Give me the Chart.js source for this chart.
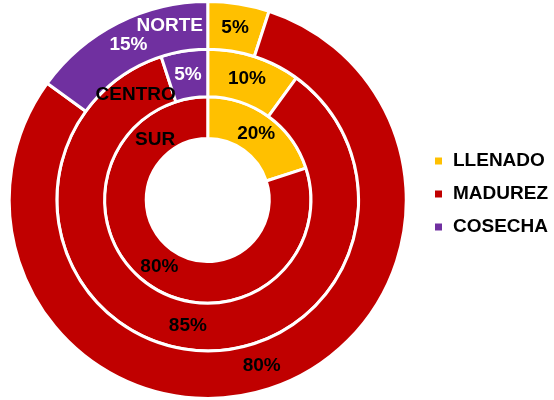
<!DOCTYPE html>
<html>
<head>
<meta charset="utf-8">
<script src="https://cdn.jsdelivr.net/npm/chart.js@4/dist/chart.umd.min.js"></script>
<style>
  html, body { margin: 0; padding: 0; background: #fff; }
  #wrap { width: 554px; height: 400px; }
</style>
</head>
<body>
<div id="wrap"><canvas id="ringChart" width="554" height="400"></canvas></div>
<script>
// Datos del gráfico - anillos de afuera hacia adentro
const etapas = ['LLENADO', 'MADUREZ', 'COSECHA'];
const zonas = ['NORTE', 'CENTRO', 'SUR'];
const norte = [5, 80, 15];
const centro = [10, 85, 5];
const sur = [20, 80, 0];

const colores = ['#FFC000', '#C00000', '#7030A0'];
const grosores = [1, 1, 0.875];

// Etiquetas de porcentaje y nombre de cada anillo
const etiquetasPlugin = {
    id: 'etiquetas',
    afterLayout(chart, args, opts) {
        // mover un poco la leyenda
        const lg = chart.legend;
        lg.left += opts.leyendaX; lg.right += opts.leyendaX;
        lg.top += opts.leyendaY; lg.bottom += opts.leyendaY;
    },
    afterDatasetsDraw(chart, args, opts) {
        const ctx = chart.ctx;
        ctx.save();
        ctx.font = 'bold 19px "Liberation Sans", Arial, sans-serif';
        ctx.textAlign = 'center';
        ctx.textBaseline = 'middle';

        chart.data.datasets.forEach((ds, i) => {
            const meta = chart.getDatasetMeta(i);
            meta.data.forEach((arc, j) => {
                const v = ds.data[j];
                if (!v) return;
                const p = arc.tooltipPosition();
                ctx.fillStyle = j === 2 ? '#fff' : '#000';
                ctx.fillText(v + '%', p.x, p.y);
            });

            // nombre de la zona
            const a0 = meta.data[0];
            const r = a0.innerRadius + (a0.outerRadius - a0.innerRadius) * opts.radio[i];
            const ang = (opts.angulo[i] - 90) * Math.PI / 180;
            ctx.fillStyle = opts.color[i];
            ctx.fillText(ds.label, a0.x + r * Math.cos(ang), a0.y + r * Math.sin(ang));
        });
        ctx.restore();
    }
};

function initRingChart() {
    const ctx = document.getElementById('ringChart');
    const series = [norte, centro, sur];

    return new Chart(ctx, {
        type: 'doughnut',
        data: {
            labels: etapas,
            datasets: series.map((s, i) => ({
                label: zonas[i],
                data: s,
                weight: grosores[i],
                backgroundColor: colores,
                borderColor: '#fff',
                borderWidth: 3
            }))
        },
        options: {
            responsive: false,
            animation: false,
            cutout: '31%',
            layout: { padding: { top: -0.5, bottom: -2.5, left: -4, right: 0 } },
            plugins: {
                legend: {
                    position: 'right',
                    labels: {
                        color: '#000',
                        boxWidth: 10,
                        boxHeight: 10,
                        padding: 14,
                        font: { family: '"Liberation Sans", Arial, sans-serif', size: 19, weight: 'bold' }
                    }
                },
                tooltip: { enabled: false },
                etiquetas: {
                    angulo: [-12.3, -34.4, -41],
                    radio: [0.58, 0.51, 0.45],
                    color: ['#fff', '#000', '#000'],
                    leyendaX: 4,
                    leyendaY: -7
                }
            }
        },
        plugins: [etiquetasPlugin]
    });
}

document.addEventListener('DOMContentLoaded', function () {
    initRingChart();
});
</script>
</body>
</html>
